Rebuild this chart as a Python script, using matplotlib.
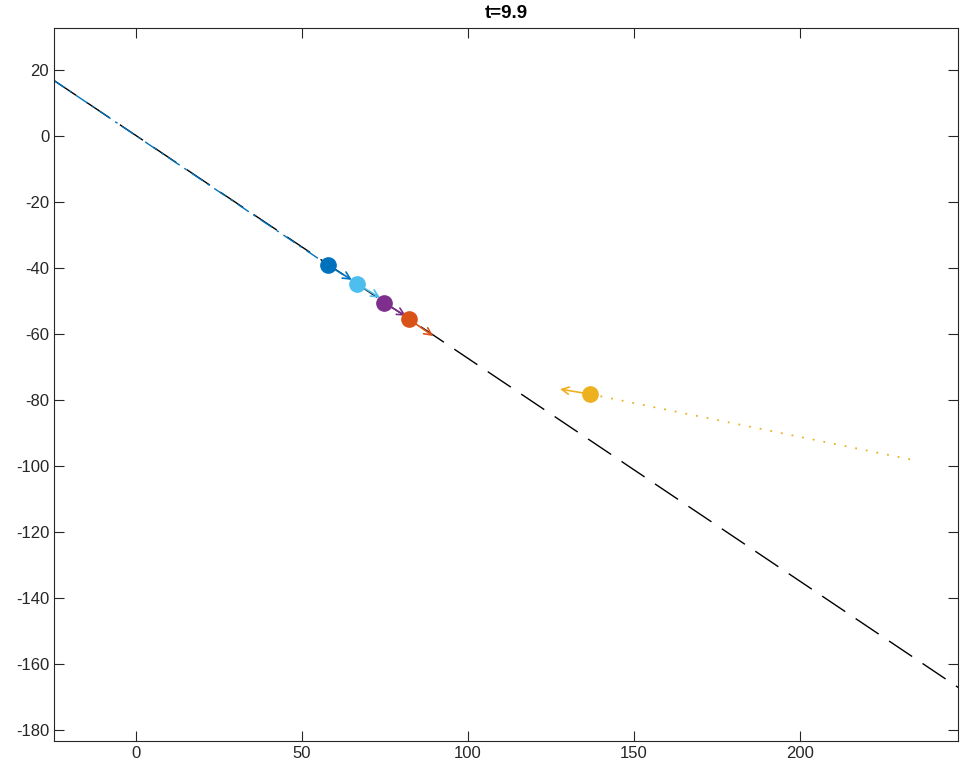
import numpy as np
import matplotlib.pyplot as plt

plt.rcParams['font.family'] = ['Liberation Sans', 'DejaVu Sans']
plt.rcParams['axes.unicode_minus'] = False

# particle positions at t=9.9 (dark blue, light blue, purple, red, yellow)
px = [57.8, 66.6, 74.7, 82.2, 136.7]
py = [-39.1, -44.8, -50.6, -55.5, -78.2]
# velocity arrow tips
tx = [65.0, 73.5, 81.3, 89.5, 127.7]
ty = [-43.6, -49.0, -54.5, -60.6, -76.7]
colors = ['#0072BD', '#4DBEEE', '#7E2F8E', '#D95319', '#EDB120']

# reference line (black dashed)
line_x = [-25.0, 248.0]
line_y = [17.0, -167.3]
# trail of the leading particle
trail_x = [-25.0, 57.8]
trail_y = [17.0, -39.1]
# trail of the yellow particle
ytrail_x = [136.7, 234.3]
ytrail_y = [-78.2, -98.2]

fig = plt.figure(figsize=(9.65, 7.71), dpi=100)
ax = fig.add_axes([54 / 965, 30 / 771, 904 / 965, 713 / 771])

ax.plot(line_x, line_y, color='black', linestyle=(0, (20, 9)), linewidth=1.0)
ax.plot(trail_x, trail_y, color=colors[0], linestyle=(0, (10, 4, 2, 4)), linewidth=1.0)
ax.plot(ytrail_x, ytrail_y, color=colors[4], linestyle=(0, (1, 5)), linewidth=1.3)

for x0, y0, x1, y1, c in zip(px, py, tx, ty, colors):
    ax.annotate('', xy=(x1, y1), xytext=(x0, y0),
                arrowprops=dict(arrowstyle='->', color=c, lw=1.2,
                                shrinkA=0, shrinkB=0, mutation_scale=13))
    ax.plot(x0, y0, 'o', color=c, markersize=11, zorder=5)

ax.set_xlim(-24.7, 247.6)
ax.set_ylim(-183.3, 32.7)
ax.set_xticks([0, 50, 100, 150, 200])
ax.set_yticks(np.arange(-180, 21, 20))
ax.tick_params(direction='in', length=7, top=True, right=True, labelsize=12,
               color='#262626', labelcolor='#262626')
for s in ax.spines.values():
    s.set_color('#262626')
    s.set_linewidth(0.8)
ax.set_title('t=9.9', fontsize=13.5, fontweight='bold', pad=7)

fig.savefig('out.png', dpi=100)
